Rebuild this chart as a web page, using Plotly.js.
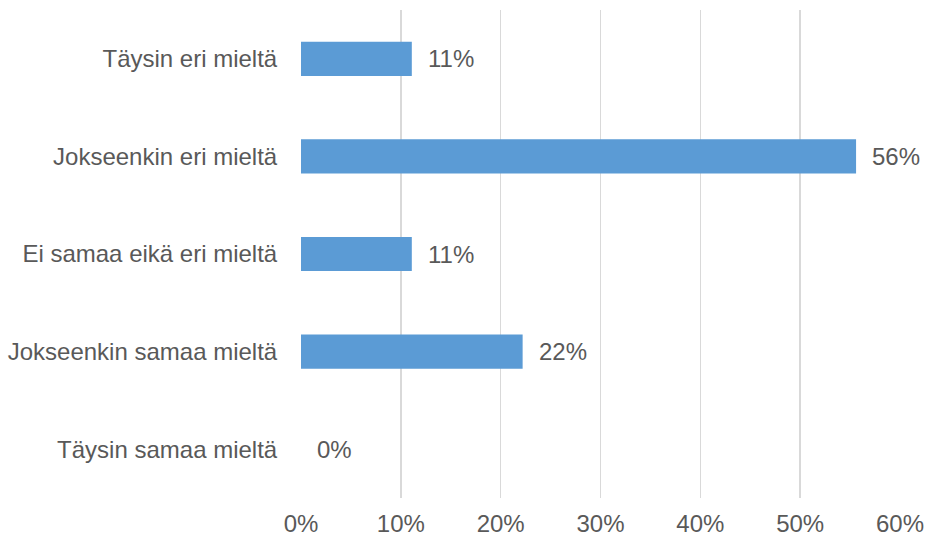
<!DOCTYPE html>
<html>
<head>
<meta charset="utf-8">
<script src="https://cdn.plot.ly/plotly-3.0.1.min.js"></script>
<style>html,body{margin:0;padding:0;background:#fff;}#chart{width:927px;height:540px;}</style>
</head>
<body>
<div id="chart"></div>
<script>
const categories = ["Täysin eri mieltä", "Jokseenkin eri mieltä", "Ei samaa eikä eri mieltä", "Jokseenkin samaa mieltä", "Täysin samaa mieltä"];
const values = [11.1, 55.6, 11.1, 22.2, 0];
const tickVals = [0, 10, 20, 30, 40, 50, 60];
const tickText = ["0%", "10%", "20%", "30%", "40%", "50%", "60%"];

const fontFam = "Liberation Sans, Arial, sans-serif";
const textColor = "#595959";
const fs = 24;

const trace = {
  type: "bar",
  orientation: "h",
  y: categories,
  x: values,
  width: 0.35,
  marker: {color: "#5B9BD5"},
  hoverinfo: "none"
};

const annotations = values.map((v, i) => ({
  x: v, y: categories[i], xref: "x", yref: "y",
  text: Math.round(v) + "%",
  showarrow: false, xanchor: "left", xshift: 14,
  font: {family: fontFam, size: fs, color: textColor}
}));

const layout = {
  width: 927, height: 540,
  margin: {l: 301, r: 27, t: 10, b: 42},
  paper_bgcolor: "#fff", plot_bgcolor: "#fff",
  showlegend: false,
  font: {family: fontFam, size: fs, color: textColor},
  xaxis: {
    range: [0, 60], tickvals: tickVals, ticktext: tickText,
    showgrid: true, gridcolor: "#d9d9d9", gridwidth: 1.5,
    zeroline: false, showline: false,
    ticks: "outside", ticklen: 4, tickcolor: "rgba(0,0,0,0)",
    tickfont: {family: fontFam, size: fs, color: textColor}
  },
  yaxis: {
    type: "category", autorange: false, range: [4.5, -0.5],
    showgrid: false, zeroline: false, showline: false,
    ticks: "outside", ticklen: 18, tickcolor: "rgba(0,0,0,0)",
    tickfont: {family: fontFam, size: fs, color: textColor}
  },
  annotations: annotations
};

Plotly.newPlot("chart", [trace], layout, {displayModeBar: false, staticPlot: true});
</script>
</body>
</html>
